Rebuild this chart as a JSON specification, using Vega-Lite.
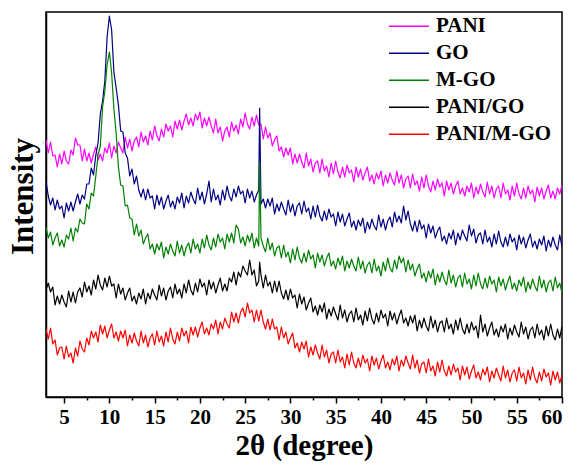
{
"$schema": "https://vega.github.io/schema/vega-lite/v6.json",
"width": 516,
"height": 385,
"autosize": {"type": "none"},
"padding": {"left": 46, "top": 12, "right": 11, "bottom": 68},
"background": "white",
"config": {"view": {"stroke": "black", "strokeWidth": 1.5}, "axis": {"grid": false}, "font": "Times New Roman, Liberation Serif, DejaVu Serif, serif"},
"data": {"values": [
{"x":3,"p":257,"g":216,"m":170,"pg":107,"pm":68},
{"x":3.25,"p":244,"g":201,"m":159,"pg":114,"pm":58},
{"x":3.5,"p":255,"g":192,"m":165,"pg":105,"pm":69},
{"x":3.75,"p":241,"g":199,"m":152,"pg":110,"pm":53},
{"x":4,"p":242,"g":187,"m":159,"pg":92,"pm":57},
{"x":4.25,"p":230,"g":197,"m":164,"pg":101,"pm":42},
{"x":4.5,"p":243,"g":188,"m":151,"pg":93,"pm":49},
{"x":4.75,"p":233,"g":191,"m":157,"pg":102,"pm":50},
{"x":5,"p":246,"g":179,"m":150,"pg":95,"pm":38},
{"x":5.25,"p":236,"g":194,"m":162,"pg":90,"pm":51},
{"x":5.5,"p":233,"g":186,"m":158,"pg":106,"pm":40},
{"x":5.75,"p":247,"g":195,"m":169,"pg":95,"pm":44},
{"x":6,"p":242,"g":186,"m":156,"pg":105,"pm":34},
{"x":6.25,"p":259,"g":195,"m":169,"pg":94,"pm":49},
{"x":6.5,"p":252,"g":203,"m":165,"pg":105,"pm":41},
{"x":6.75,"p":252,"g":193,"m":178,"pg":109,"pm":56},
{"x":7,"p":236,"g":202,"m":174,"pg":100,"pm":48},
{"x":7.25,"p":248,"g":198,"m":173,"pg":115,"pm":45},
{"x":7.5,"p":236,"g":213,"m":193,"pg":105,"pm":59},
{"x":7.75,"p":244,"g":213,"m":188,"pg":111,"pm":52},
{"x":8,"p":234,"g":229,"m":204,"pg":102,"pm":66},
{"x":8.25,"p":243,"g":222,"m":201,"pg":117,"pm":59},
{"x":8.5,"p":250,"g":242,"m":221,"pg":108,"pm":65},
{"x":8.75,"p":237,"g":254,"m":242,"pg":122,"pm":55},
{"x":9,"p":243,"g":283,"m":251,"pg":112,"pm":72},
{"x":9.25,"p":236,"g":296,"m":290,"pg":107,"pm":63},
{"x":9.5,"p":249,"g":316,"m":306,"pg":119,"pm":71},
{"x":9.75,"p":244,"g":360,"m":332,"pg":110,"pm":59},
{"x":10,"p":254,"g":381,"m":345,"pg":121,"pm":67},
{"x":10.25,"p":239,"g":367,"m":324,"pg":111,"pm":73},
{"x":10.5,"p":251,"g":325,"m":288,"pg":113,"pm":59},
{"x":10.75,"p":244,"g":309,"m":264,"pg":99,"pm":65},
{"x":11,"p":255,"g":292,"m":230,"pg":113,"pm":56},
{"x":11.25,"p":249,"g":266,"m":212,"pg":103,"pm":66},
{"x":11.5,"p":244,"g":265,"m":211,"pg":109,"pm":59},
{"x":11.75,"p":260,"g":244,"m":191,"pg":97,"pm":67},
{"x":12,"p":249,"g":239,"m":192,"pg":104,"pm":51},
{"x":12.25,"p":258,"g":221,"m":179,"pg":109,"pm":62},
{"x":12.5,"p":246,"g":228,"m":178,"pg":96,"pm":54},
{"x":12.75,"p":256,"g":213,"m":162,"pg":101,"pm":64},
{"x":13,"p":260,"g":221,"m":173,"pg":93,"pm":56},
{"x":13.25,"p":250,"g":207,"m":161,"pg":104,"pm":51},
{"x":13.5,"p":265,"g":200,"m":167,"pg":98,"pm":66},
{"x":13.75,"p":255,"g":208,"m":153,"pg":108,"pm":54},
{"x":14,"p":261,"g":197,"m":159,"pg":93,"pm":62},
{"x":14.25,"p":252,"g":208,"m":163,"pg":104,"pm":50},
{"x":14.5,"p":266,"g":199,"m":148,"pg":98,"pm":59},
{"x":14.75,"p":257,"g":201,"m":153,"pg":108,"pm":63},
{"x":15,"p":271,"g":188,"m":143,"pg":102,"pm":52},
{"x":15.25,"p":261,"g":202,"m":153,"pg":97,"pm":66},
{"x":15.5,"p":256,"g":192,"m":147,"pg":112,"pm":55},
{"x":15.75,"p":268,"g":200,"m":155,"pg":101,"pm":61},
{"x":16,"p":260,"g":188,"m":139,"pg":109,"pm":51},
{"x":16.25,"p":273,"g":196,"m":150,"pg":97,"pm":65},
{"x":16.5,"p":266,"g":202,"m":143,"pg":106,"pm":55},
{"x":16.75,"p":271,"g":190,"m":153,"pg":110,"pm":69},
{"x":17,"p":260,"g":196,"m":146,"pg":99,"pm":58},
{"x":17.25,"p":276,"g":188,"m":141,"pg":113,"pm":53},
{"x":17.5,"p":268,"g":200,"m":156,"pg":103,"pm":65},
{"x":17.75,"p":277,"g":194,"m":144,"pg":108,"pm":56},
{"x":18,"p":267,"g":204,"m":152,"pg":99,"pm":69},
{"x":18.25,"p":276,"g":189,"m":141,"pg":113,"pm":61},
{"x":18.5,"p":283,"g":201,"m":150,"pg":104,"pm":66},
{"x":18.75,"p":272,"g":194,"m":154,"pg":117,"pm":54},
{"x":19,"p":279,"g":205,"m":144,"pg":107,"pm":70},
{"x":19.25,"p":271,"g":198,"m":158,"pg":102,"pm":62},
{"x":19.5,"p":283,"g":193,"m":148,"pg":114,"pm":70},
{"x":19.75,"p":277,"g":209,"m":153,"pg":105,"pm":60},
{"x":20,"p":285,"g":197,"m":144,"pg":118,"pm":69},
{"x":20.25,"p":269,"g":205,"m":158,"pg":110,"pm":75},
{"x":20.5,"p":279,"g":193,"m":149,"pg":114,"pm":63},
{"x":20.75,"p":271,"g":203,"m":162,"pg":102,"pm":69},
{"x":21,"p":280,"g":216,"m":152,"pg":117,"pm":62},
{"x":21.25,"p":271,"g":195,"m":147,"pg":108,"pm":73},
{"x":21.5,"p":264,"g":208,"m":159,"pg":115,"pm":68},
{"x":21.75,"p":278,"g":197,"m":150,"pg":104,"pm":77},
{"x":22,"p":264,"g":202,"m":163,"pg":112,"pm":63},
{"x":22.25,"p":270,"g":192,"m":155,"pg":119,"pm":75},
{"x":22.5,"p":256,"g":207,"m":159,"pg":106,"pm":68},
{"x":22.75,"p":266,"g":197,"m":148,"pg":113,"pm":79},
{"x":23,"p":270,"g":211,"m":163,"pg":106,"pm":73},
{"x":23.25,"p":260,"g":201,"m":155,"pg":119,"pm":69},
{"x":23.5,"p":275,"g":196,"m":164,"pg":115,"pm":85},
{"x":23.75,"p":266,"g":208,"m":154,"pg":125,"pm":75},
{"x":24,"p":272,"g":200,"m":172,"pg":112,"pm":84},
{"x":24.25,"p":263,"g":211,"m":168,"pg":125,"pm":74},
{"x":24.5,"p":278,"g":203,"m":154,"pg":120,"pm":85},
{"x":24.75,"p":270,"g":206,"m":160,"pg":131,"pm":89},
{"x":25,"p":284,"g":194,"m":151,"pg":126,"pm":80},
{"x":25.25,"p":273,"g":208,"m":162,"pg":122,"pm":94},
{"x":25.5,"p":268,"g":199,"m":155,"pg":137,"pm":84},
{"x":25.75,"p":280,"g":206,"m":164,"pg":122,"pm":87},
{"x":26,"p":271,"g":195,"m":149,"pg":127,"pm":75},
{"x":26.25,"p":282,"g":202,"m":159,"pg":111,"pm":87},
{"x":26.5,"p":272,"g":207,"m":151,"pg":116,"pm":76},
{"x":26.6,"g":289,"m":234,"pg":135},
{"x":26.75,"p":273,"g":193,"m":159,"pg":122,"pm":87},
{"x":27,"p":258,"g":198,"m":151,"pg":109,"pm":75},
{"x":27.25,"p":270,"g":189,"m":145,"pg":122,"pm":68},
{"x":27.5,"p":259,"g":198,"m":159,"pg":111,"pm":78},
{"x":27.75,"p":264,"g":191,"m":147,"pg":115,"pm":67},
{"x":28,"p":251,"g":199,"m":154,"pg":104,"pm":78},
{"x":28.25,"p":257,"g":183,"m":141,"pg":116,"pm":68},
{"x":28.5,"p":261,"g":193,"m":149,"pg":105,"pm":70},
{"x":28.75,"p":246,"g":186,"m":151,"pg":116,"pm":57},
{"x":29,"p":250,"g":195,"m":139,"pg":104,"pm":70},
{"x":29.25,"p":240,"g":188,"m":152,"pg":98,"pm":59},
{"x":29.5,"p":249,"g":182,"m":140,"pg":107,"pm":65},
{"x":29.75,"p":242,"g":197,"m":145,"pg":97,"pm":53},
{"x":30,"p":249,"g":185,"m":134,"pg":108,"pm":59},
{"x":30.25,"p":233,"g":193,"m":148,"pg":99,"pm":64},
{"x":30.5,"p":243,"g":181,"m":137,"pg":102,"pm":49},
{"x":30.75,"p":234,"g":191,"m":150,"pg":89,"pm":54},
{"x":31,"p":243,"g":194,"m":139,"pg":103,"pm":45},
{"x":31.25,"p":235,"g":183,"m":134,"pg":93,"pm":55},
{"x":31.5,"p":229,"g":196,"m":144,"pg":100,"pm":48},
{"x":31.75,"p":244,"g":185,"m":135,"pg":87,"pm":56},
{"x":32,"p":231,"g":189,"m":147,"pg":94,"pm":40},
{"x":32.25,"p":238,"g":178,"m":138,"pg":99,"pm":50},
{"x":32.5,"p":225,"g":191,"m":142,"pg":85,"pm":42},
{"x":32.75,"p":234,"g":180,"m":129,"pg":91,"pm":52},
{"x":33,"p":236,"g":192,"m":144,"pg":82,"pm":44},
{"x":33.25,"p":224,"g":181,"m":135,"pg":92,"pm":38},
{"x":33.5,"p":238,"g":176,"m":142,"pg":85,"pm":52},
{"x":33.75,"p":226,"g":186,"m":131,"pg":94,"pm":40},
{"x":34,"p":231,"g":177,"m":139,"pg":78,"pm":47},
{"x":34.25,"p":220,"g":188,"m":144,"pg":88,"pm":34},
{"x":34.5,"p":234,"g":180,"m":131,"pg":81,"pm":43},
{"x":34.75,"p":223,"g":183,"m":136,"pg":90,"pm":45},
{"x":35,"p":236,"g":171,"m":128,"pg":83,"pm":34},
{"x":35.25,"p":225,"g":185,"m":139,"pg":77,"pm":47},
{"x":35.5,"p":219,"g":175,"m":132,"pg":92,"pm":35},
{"x":35.75,"p":230,"g":183,"m":141,"pg":79,"pm":40},
{"x":36,"p":220,"g":171,"m":126,"pg":87,"pm":29},
{"x":36.25,"p":232,"g":178,"m":136,"pg":75,"pm":43},
{"x":36.5,"p":224,"g":184,"m":129,"pg":83,"pm":32},
{"x":36.75,"p":227,"g":170,"m":138,"pg":86,"pm":45},
{"x":37,"p":215,"g":176,"m":131,"pg":75,"pm":34},
{"x":37.25,"p":230,"g":167,"m":126,"pg":89,"pm":29},
{"x":37.5,"p":220,"g":177,"m":140,"pg":77,"pm":39},
{"x":37.75,"p":228,"g":171,"m":128,"pg":82,"pm":30},
{"x":38,"p":217,"g":179,"m":136,"pg":72,"pm":42},
{"x":38.25,"p":224,"g":164,"m":124,"pg":86,"pm":34},
{"x":38.5,"p":230,"g":175,"m":132,"pg":76,"pm":38},
{"x":38.75,"p":216,"g":168,"m":135,"pg":89,"pm":26},
{"x":39,"p":222,"g":178,"m":124,"pg":78,"pm":41},
{"x":39.25,"p":213,"g":171,"m":138,"pg":73,"pm":32},
{"x":39.5,"p":224,"g":167,"m":126,"pg":84,"pm":39},
{"x":39.75,"p":218,"g":182,"m":131,"pg":75,"pm":28},
{"x":40,"p":226,"g":170,"m":121,"pg":87,"pm":36},
{"x":40.25,"p":211,"g":178,"m":135,"pg":79,"pm":42},
{"x":40.5,"p":222,"g":167,"m":126,"pg":83,"pm":29},
{"x":40.75,"p":214,"g":176,"m":139,"pg":71,"pm":35},
{"x":41,"p":224,"g":180,"m":129,"pg":86,"pm":27},
{"x":41.25,"p":217,"g":170,"m":125,"pg":77,"pm":38},
{"x":41.5,"p":212,"g":185,"m":137,"pg":84,"pm":32},
{"x":41.75,"p":226,"g":175,"m":128,"pg":73,"pm":41},
{"x":42,"p":214,"g":181,"m":141,"pg":81,"pm":26},
{"x":42.25,"p":222,"g":174,"m":134,"pg":87,"pm":37},
{"x":42.5,"p":209,"g":191,"m":139,"pg":74,"pm":31},
{"x":42.75,"p":218,"g":177,"m":125,"pg":79,"pm":41},
{"x":43,"p":221,"g":186,"m":137,"pg":71,"pm":34},
{"x":43.25,"p":209,"g":173,"m":127,"pg":81,"pm":28},
{"x":43.5,"p":223,"g":166,"m":133,"pg":74,"pm":42},
{"x":43.75,"p":212,"g":176,"m":121,"pg":82,"pm":29},
{"x":44,"p":216,"g":165,"m":128,"pg":66,"pm":37},
{"x":44.25,"p":206,"g":177,"m":133,"pg":77,"pm":24},
{"x":44.5,"p":220,"g":168,"m":119,"pg":69,"pm":33},
{"x":44.75,"p":209,"g":172,"m":124,"pg":79,"pm":35},
{"x":45,"p":222,"g":159,"m":115,"pg":71,"pm":24},
{"x":45.25,"p":211,"g":173,"m":126,"pg":66,"pm":38},
{"x":45.5,"p":205,"g":164,"m":119,"pg":81,"pm":26},
{"x":45.75,"p":216,"g":171,"m":128,"pg":69,"pm":31},
{"x":46,"p":207,"g":159,"m":112,"pg":77,"pm":21},
{"x":46.25,"p":218,"g":166,"m":123,"pg":65,"pm":35},
{"x":46.5,"p":210,"g":170,"m":115,"pg":74,"pm":25},
{"x":46.75,"p":214,"g":156,"m":125,"pg":76,"pm":37},
{"x":47,"p":201,"g":161,"m":117,"pg":65,"pm":26},
{"x":47.25,"p":216,"g":153,"m":112,"pg":79,"pm":21},
{"x":47.5,"p":207,"g":164,"m":127,"pg":68,"pm":31},
{"x":47.75,"p":214,"g":158,"m":114,"pg":73,"pm":22},
{"x":48,"p":203,"g":167,"m":122,"pg":63,"pm":33},
{"x":48.25,"p":211,"g":152,"m":110,"pg":77,"pm":25},
{"x":48.5,"p":216,"g":164,"m":119,"pg":67,"pm":29},
{"x":48.75,"p":203,"g":157,"m":122,"pg":79,"pm":17},
{"x":49,"p":209,"g":167,"m":110,"pg":68,"pm":31},
{"x":49.25,"p":201,"g":161,"m":124,"pg":63,"pm":22},
{"x":49.5,"p":211,"g":156,"m":113,"pg":73,"pm":30},
{"x":49.75,"p":205,"g":172,"m":118,"pg":64,"pm":18},
{"x":50,"p":214,"g":161,"m":108,"pg":75,"pm":26},
{"x":50.25,"p":199,"g":168,"m":122,"pg":67,"pm":32},
{"x":50.5,"p":210,"g":154,"m":111,"pg":71,"pm":19},
{"x":50.75,"p":203,"g":162,"m":124,"pg":59,"pm":25},
{"x":51,"p":213,"g":164,"m":113,"pg":82,"pm":17},
{"x":51.25,"p":205,"g":153,"m":108,"pg":65,"pm":28},
{"x":51.5,"p":200,"g":167,"m":119,"pg":73,"pm":22},
{"x":51.75,"p":215,"g":155,"m":109,"pg":61,"pm":30},
{"x":52,"p":203,"g":160,"m":121,"pg":69,"pm":15},
{"x":52.25,"p":211,"g":150,"m":113,"pg":75,"pm":26},
{"x":52.5,"p":199,"g":163,"m":117,"pg":62,"pm":19},
{"x":52.75,"p":208,"g":153,"m":105,"pg":68,"pm":29},
{"x":53,"p":211,"g":166,"m":120,"pg":60,"pm":22},
{"x":53.25,"p":199,"g":155,"m":111,"pg":71,"pm":16},
{"x":53.5,"p":214,"g":150,"m":118,"pg":65,"pm":31},
{"x":53.75,"p":203,"g":160,"m":107,"pg":73,"pm":19},
{"x":54,"p":207,"g":151,"m":115,"pg":58,"pm":27},
{"x":54.25,"p":197,"g":163,"m":121,"pg":69,"pm":15},
{"x":54.5,"p":211,"g":155,"m":108,"pg":62,"pm":24},
{"x":54.75,"p":201,"g":159,"m":114,"pg":72,"pm":27},
{"x":55,"p":214,"g":147,"m":106,"pg":65,"pm":16},
{"x":55.25,"p":203,"g":162,"m":117,"pg":60,"pm":30},
{"x":55.5,"p":198,"g":153,"m":111,"pg":75,"pm":19},
{"x":55.75,"p":209,"g":160,"m":120,"pg":63,"pm":24},
{"x":56,"p":199,"g":149,"m":105,"pg":70,"pm":13},
{"x":56.25,"p":211,"g":157,"m":115,"pg":58,"pm":27},
{"x":56.5,"p":203,"g":163,"m":108,"pg":67,"pm":17},
{"x":56.75,"p":207,"g":150,"m":118,"pg":70,"pm":30},
{"x":57,"p":195,"g":156,"m":111,"pg":59,"pm":19},
{"x":57.25,"p":210,"g":148,"m":106,"pg":73,"pm":14},
{"x":57.5,"p":201,"g":158,"m":121,"pg":62,"pm":25},
{"x":57.75,"p":209,"g":152,"m":109,"pg":67,"pm":16},
{"x":58,"p":198,"g":161,"m":117,"pg":57,"pm":28},
{"x":58.25,"p":206,"g":146,"m":105,"pg":71,"pm":20},
{"x":58.5,"p":212,"g":157,"m":114,"pg":61,"pm":24},
{"x":58.75,"p":199,"g":150,"m":117,"pg":73,"pm":12},
{"x":59,"p":206,"g":160,"m":106,"pg":62,"pm":26},
{"x":59.25,"p":198,"g":152,"m":120,"pg":57,"pm":17},
{"x":59.5,"p":209,"g":147,"m":109,"pg":68,"pm":25},
{"x":59.75,"p":203,"g":162,"m":114,"pg":59,"pm":14},
{"x":60,"p":212,"g":150,"m":104,"pg":71,"pm":22}
]},
"transform": [
{"fold": ["p","g","m","pg","pm"], "as": ["sample","intensity"]},
{"filter": "isValid(datum.intensity)"}
],
"mark": {"type": "line", "strokeWidth": 1.2, "strokeJoin": "round", "clip": true},
"encoding": {
"x": {"field": "x", "type": "quantitative",
 "scale": {"domain": [3, 60], "nice": false, "zero": false},
 "axis": {"values": [5,7.5,10,12.5,15,17.5,20,22.5,25,27.5,30,32.5,35,37.5,40,42.5,45,47.5,50,52.5,55,57.5,60],
  "labelExpr": "datum.value % 5 === 0 ? datum.label : ''",
  "tickSize": {"condition": {"test": "datum.value % 5 === 0", "value": 6}, "value": 3},
  "tickColor": "black", "tickWidth": 1.5, "domainColor": "black", "domainWidth": 1.5,
  "labelFont": "Times New Roman, Liberation Serif, DejaVu Serif, serif", "labelFontSize": 21, "labelFontWeight": "bold", "labelColor": "black", "labelPadding": 3,
  "title": "2θ (degree)", "titleFont": "Times New Roman, Liberation Serif, DejaVu Serif, serif", "titleFontSize": 29, "titleFontWeight": "bold", "titleColor": "black", "titlePadding": 4}},
"y": {"field": "intensity", "type": "quantitative",
 "scale": {"domain": [0, 385], "nice": false, "zero": false},
 "axis": {"ticks": false, "labels": false, "domainColor": "black", "domainWidth": 1.5,
  "title": "Intensity", "titleFont": "Times New Roman, Liberation Serif, DejaVu Serif, serif", "titleFontSize": 31, "titleFontWeight": "bold", "titleColor": "black", "titlePadding": 7, "titleY": 184}},
"color": {"field": "sample", "type": "nominal",
 "scale": {"domain": ["p","g","m","pg","pm"], "range": ["#FF00FF","#000080","#008000","#000000","#FF0000"]},
 "legend": {"orient": "none", "legendX": 342, "legendY": 1, "title": null, "padding": 0,
  "symbolType": "stroke", "symbolSize": 1600, "symbolStrokeWidth": 1.5,
  "labelFont": "Times New Roman, Liberation Serif, DejaVu Serif, serif", "labelFontSize": 21, "labelFontWeight": "bold", "labelColor": "black", "labelOffset": 6,
  "clipHeight": 26.5, "rowPadding": 0,
  "labelExpr": "datum.label == 'p' ? 'PANI' : datum.label == 'g' ? 'GO' : datum.label == 'm' ? 'M-GO' : datum.label == 'pg' ? 'PANI/GO' : 'PANI/M-GO'"}}
}
}
